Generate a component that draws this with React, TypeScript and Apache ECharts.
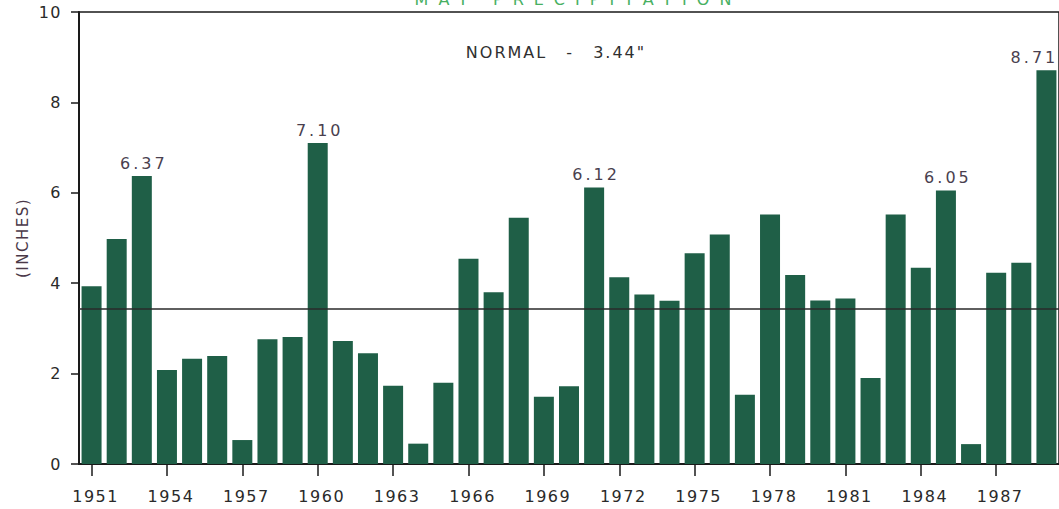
import React, { useEffect, useRef } from "react";
import * as echarts from "echarts";

const years: string[] = [
  "1951", "1952", "1953", "1954", "1955", "1956", "1957", "1958", "1959", "1960",
  "1961", "1962", "1963", "1964", "1965", "1966", "1967", "1968", "1969", "1970",
  "1971", "1972", "1973", "1974", "1975", "1976", "1977", "1978", "1979", "1980",
  "1981", "1982", "1983", "1984", "1985", "1986", "1987", "1988", "1989",
];

const precipitation: number[] = [
  3.93, 4.98, 6.37, 2.08, 2.33, 2.39, 0.53, 2.76, 2.81, 7.10,
  2.72, 2.45, 1.73, 0.45, 1.80, 4.54, 3.80, 5.45, 1.49, 1.72,
  6.12, 4.13, 3.75, 3.61, 4.66, 5.08, 1.53, 5.52, 4.18, 3.62,
  3.66, 1.90, 5.52, 4.34, 6.05, 0.44, 4.23, 4.45, 8.71,
];

const labelledYears: string[] = ["1953", "1960", "1971", "1985", "1989"];
const normalValue = 3.44;
const titleText = "MAY PRECIPITATION";
const normalText = 'NORMAL - 3.44"';
const yAxisName = "(INCHES)";

const FONT = "DejaVu Sans";

export default function App() {
  const ref = useRef<HTMLDivElement>(null);

  useEffect(() => {
    document.body.style.margin = "0";
    const el = ref.current!;
    const chart = echarts.init(el, undefined, { renderer: "svg" });

    const data = precipitation.map((v, i) => {
      const show = labelledYears.includes(years[i]);
      return {
        value: v,
        label: show
          ? {
              show: true,
              offset: years[i] === "1989" ? [-12, 0] : [2, 0],
            }
          : { show: false },
      };
    });

    chart.setOption({
      animation: false,
      textStyle: { fontFamily: FONT },
      grid: {
        left: 79,
        right: -8,
        top: 12,
        bottom: 45,
        show: true,
        borderColor: "#1a1a1a",
        borderWidth: 1.5,
      },
      xAxis: {
        type: "category",
        data: years,
        boundaryGap: true,
        axisLine: { lineStyle: { color: "#1a1a1a", width: 2 } },
        axisTick: {
          show: true,
          interval: 2,
          alignWithLabel: true,
          length: 12,
          lineStyle: { color: "#1a1a1a", width: 1.5 },
        },
        axisLabel: {
          interval: 2,
          margin: 24,
          color: "#2a2a2a",
          fontSize: 16,
          fontFamily: FONT,
          padding: [0, 0, 0, 8],
        },
      },
      yAxis: {
        type: "value",
        min: 0,
        max: 10,
        interval: 2,
        name: yAxisName,
        nameLocation: "middle",
        nameGap: 49,
        nameTextStyle: { fontSize: 15, color: "#4a3848", fontFamily: FONT },
        splitLine: { show: false },
        axisLine: { show: true, lineStyle: { color: "#1a1a1a", width: 2 } },
        axisTick: { show: true, length: 8, lineStyle: { color: "#1a1a1a", width: 1.5 } },
        axisLabel: { margin: 17, fontSize: 16, color: "#2a2a2a", fontFamily: FONT },
      },
      series: [
        {
          type: "bar",
          data,
          barWidth: 20,
          silent: true,
          itemStyle: { color: "#1f5f47" },
          label: {
            show: false,
            position: "top",
            distance: 5,
            fontSize: 16,
            color: "#4a3f4f",
            fontFamily: FONT,
            formatter: (p: any) => Number(p.value).toFixed(2),
          },
          markLine: {
            silent: true,
            symbol: ["none", "none"],
            label: { show: false },
            lineStyle: { color: "#2a2a2a", width: 1.5, type: "solid" },
            data: [{ yAxis: normalValue }],
          },
        },
      ],
      graphic: [
        {
          type: "text",
          x: 578,
          y: -1,
          silent: true,
          style: {
            text: titleText,
            fill: "#48b062",
            fontSize: 16,
            fontFamily: FONT,
            align: "center",
            verticalAlign: "middle",
          },
        },
        {
          type: "text",
          x: 556,
          y: 52,
          silent: true,
          style: {
            text: normalText,
            fill: "#2f2f2f",
            fontSize: 16,
            fontFamily: FONT,
            align: "center",
            verticalAlign: "middle",
          },
        },
      ],
    });

    const applySpacing = () => {
      el.querySelectorAll("text").forEach((t) => {
        const s = t.textContent || "";
        if (s.startsWith("MAY")) {
          t.setAttribute("letter-spacing", "10");
        } else if (s.startsWith("NORMAL")) {
          t.setAttribute("letter-spacing", "2");
          t.setAttribute("word-spacing", "12");
        } else if (/^\d\.\d\d$/.test(s)) {
          t.setAttribute("letter-spacing", "3");
        } else {
          t.setAttribute("letter-spacing", "1.5");
        }
      });
    };
    applySpacing();
    chart.on("finished", applySpacing);
    const raf = requestAnimationFrame(applySpacing);

    return () => {
      cancelAnimationFrame(raf);
      chart.dispose();
    };
  }, []);

  return <div ref={ref} style={{ width: 1059, height: 509 }} />;
}
